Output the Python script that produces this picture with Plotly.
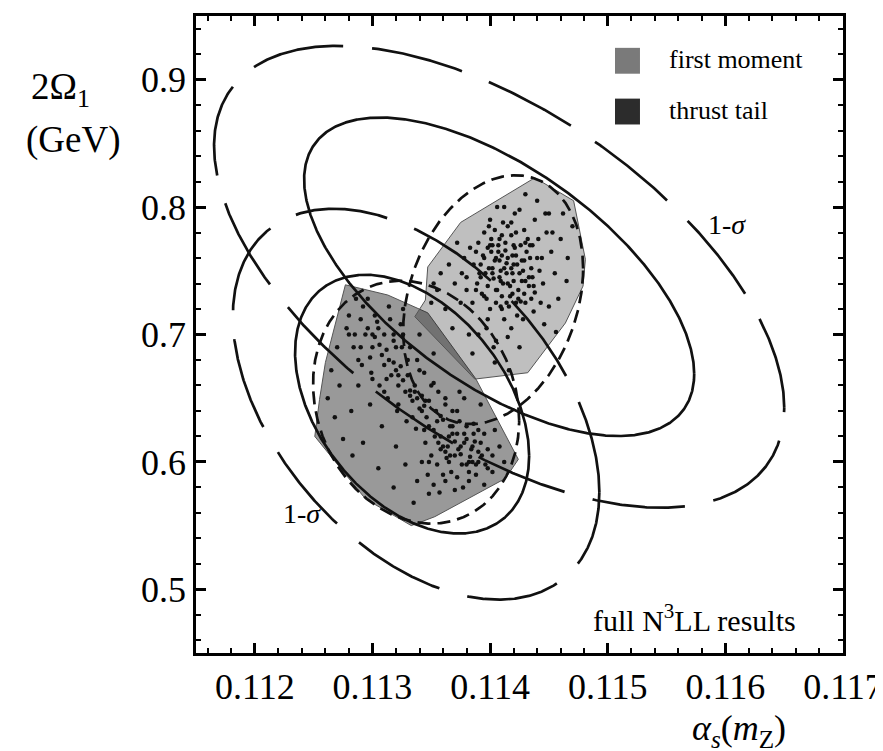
import numpy as np
import plotly.graph_objects as go

# ---------------- data ----------------
x_ticks = [0.112, 0.113, 0.114, 0.115, 0.116, 0.117]
y_ticks = [0.5, 0.6, 0.7, 0.8, 0.9]

# convex hulls of the best-fit points
moment_hull_x = [0.11438, 0.11471, 0.11481, 0.11479, 0.11464, 0.11432, 0.11387, 0.11336, 0.11345, 0.11347, 0.11375, 0.11438]
moment_hull_y = [0.823, 0.805, 0.759, 0.738, 0.709, 0.670, 0.665, 0.714, 0.727, 0.753, 0.788, 0.823]
thrust_hull_x = [0.11277, 0.11313, 0.11347, 0.11388, 0.11424, 0.11413, 0.11353, 0.11333, 0.11294, 0.11251, 0.11255, 0.11260, 0.11277]
thrust_hull_y = [0.739, 0.731, 0.717, 0.665, 0.602, 0.587, 0.557, 0.550, 0.571, 0.620, 0.649, 0.678, 0.739]

# best-fit points (read approximately)
thrust_pts_x = [0.11280, 0.11285, 0.11292, 0.11300, 0.11296, 0.11305, 0.11310, 0.11318, 0.11322, 0.11315,
                0.11330, 0.11336, 0.11340, 0.11345, 0.11352, 0.11358, 0.11362, 0.11368, 0.11372, 0.11380,
                0.11386, 0.11390, 0.11395, 0.11402, 0.11408, 0.11398, 0.11385, 0.11375, 0.11365, 0.11355,
                0.11342, 0.11332, 0.11325, 0.11312, 0.11302, 0.11290, 0.11278, 0.11270, 0.11265, 0.11262,
                0.11268, 0.11275, 0.11283, 0.11288, 0.11298, 0.11308, 0.11320, 0.11328, 0.11338, 0.11348,
                0.11360, 0.11370, 0.11382, 0.11392, 0.11404, 0.11412, 0.11395, 0.11378, 0.11362, 0.11348,
                0.11335, 0.11318, 0.11305, 0.11292, 0.11282, 0.11272, 0.11300, 0.11322, 0.11344, 0.11366,
                0.11388, 0.11356, 0.11334, 0.11310, 0.11288, 0.11340, 0.11352, 0.11326, 0.11314, 0.11374,
                0.11300, 0.11306, 0.11312, 0.11318, 0.11324, 0.11330, 0.11336, 0.11342, 0.11348, 0.11354,
                0.11360, 0.11366, 0.11372, 0.11378, 0.11384, 0.11390, 0.11396, 0.11402, 0.11346, 0.11352,
                0.11358, 0.11364, 0.11370, 0.11376, 0.11382, 0.11340, 0.11334, 0.11328, 0.11322, 0.11316,
                0.11310, 0.11304, 0.11298, 0.11294, 0.11320, 0.11326, 0.11332, 0.11338, 0.11344, 0.11350,
                0.11356, 0.11362, 0.11368, 0.11374, 0.11380, 0.11386, 0.11392, 0.11398, 0.11286, 0.11280,
                0.11345, 0.11350, 0.11355, 0.11360, 0.11365, 0.11370, 0.11375, 0.11380, 0.11385, 0.11390,
                0.11348, 0.11353, 0.11358, 0.11363, 0.11368, 0.11373, 0.11378, 0.11383, 0.11388, 0.11393,
                0.11342, 0.11347, 0.11352, 0.11357, 0.11362, 0.11367, 0.11372, 0.11377, 0.11382, 0.11387,
                0.11290, 0.11296, 0.11302, 0.11308, 0.11314, 0.11320, 0.11326, 0.11332, 0.11338, 0.11344,
                0.11284, 0.11291, 0.11299, 0.11306, 0.11313, 0.11321, 0.11329, 0.11337, 0.11318, 0.11324]
thrust_pts_y = [0.715, 0.700, 0.722, 0.690, 0.728, 0.705, 0.676, 0.695, 0.668, 0.712,
                0.680, 0.655, 0.672, 0.648, 0.662, 0.636, 0.650, 0.628, 0.640, 0.618,
                0.630, 0.608, 0.622, 0.605, 0.612, 0.595, 0.600, 0.612, 0.620, 0.632,
                0.640, 0.652, 0.690, 0.665, 0.715, 0.690, 0.705, 0.690, 0.672, 0.650,
                0.635, 0.618, 0.605, 0.660, 0.645, 0.628, 0.612, 0.598, 0.585, 0.600,
                0.590, 0.578, 0.585, 0.645, 0.625, 0.600, 0.582, 0.650, 0.608, 0.575,
                0.568, 0.580, 0.595, 0.615, 0.640, 0.660, 0.665, 0.645, 0.625, 0.605,
                0.598, 0.615, 0.635, 0.655, 0.680, 0.700, 0.685, 0.720, 0.722, 0.655,
                0.700, 0.692, 0.688, 0.678, 0.675, 0.668, 0.660, 0.652, 0.648, 0.640,
                0.633, 0.628, 0.622, 0.615, 0.610, 0.600, 0.598, 0.592, 0.635, 0.625,
                0.620, 0.612, 0.605, 0.598, 0.592, 0.642, 0.648, 0.655, 0.660, 0.668,
                0.700, 0.710, 0.682, 0.700, 0.690, 0.700, 0.690, 0.680, 0.670, 0.660,
                0.655, 0.645, 0.640, 0.632, 0.628, 0.622, 0.615, 0.610, 0.728, 0.700,
                0.615, 0.605, 0.598, 0.612, 0.600, 0.616, 0.606, 0.598, 0.612, 0.625,
                0.628, 0.620, 0.610, 0.603, 0.622, 0.610, 0.622, 0.604, 0.590, 0.605,
                0.600, 0.590, 0.582, 0.576, 0.585, 0.592, 0.588, 0.580, 0.600, 0.616,
                0.712, 0.705, 0.698, 0.684, 0.680, 0.672, 0.664, 0.656, 0.650, 0.644,
                0.690, 0.676, 0.670, 0.660, 0.650, 0.640, 0.632, 0.626, 0.700, 0.708]

moment_pts_x = [0.11440, 0.11430, 0.11420, 0.11412, 0.11405, 0.11398, 0.11392, 0.11385, 0.11378, 0.11370,
                0.11362, 0.11355, 0.11448, 0.11455, 0.11462, 0.11450, 0.11438, 0.11425, 0.11415, 0.11408,
                0.11400, 0.11410, 0.11418, 0.11428, 0.11435, 0.11445, 0.11452, 0.11460, 0.11466, 0.11440,
                0.11430, 0.11420, 0.11410, 0.11402, 0.11395, 0.11388, 0.11380, 0.11372, 0.11365, 0.11358,
                0.11350, 0.11352, 0.11390, 0.11398, 0.11405, 0.11415, 0.11422, 0.11432, 0.11442, 0.11450,
                0.11458, 0.11465, 0.11470, 0.11412, 0.11425, 0.11408, 0.11395, 0.11382, 0.11400, 0.11418,
                0.11436, 0.11427, 0.11392, 0.11375, 0.11446, 0.11456, 0.11404, 0.11416, 0.11385, 0.11368,
                0.11395, 0.11402, 0.11408, 0.11413, 0.11419, 0.11424, 0.11405, 0.11398, 0.11410, 0.11416,
                0.11422, 0.11428, 0.11433, 0.11430, 0.11418, 0.11404, 0.11390, 0.11386, 0.11393, 0.11400,
                0.11412, 0.11423, 0.11436, 0.11438, 0.11444, 0.11409, 0.11414, 0.11420, 0.11426, 0.11401,
                0.11396, 0.11407, 0.11417, 0.11429, 0.11434, 0.11389, 0.11383, 0.11411, 0.11421, 0.11397,
                0.11380, 0.11376, 0.11406, 0.11441, 0.11447, 0.11453, 0.11437, 0.11443, 0.11415, 0.11403,
                0.11399, 0.11403, 0.11407, 0.11411, 0.11415, 0.11419, 0.11423, 0.11427, 0.11431, 0.11435,
                0.11401, 0.11405, 0.11409, 0.11413, 0.11417, 0.11421, 0.11425, 0.11429, 0.11433, 0.11437,
                0.11397, 0.11402, 0.11406, 0.11410, 0.11414, 0.11418, 0.11422, 0.11426, 0.11430, 0.11434,
                0.11394, 0.11399, 0.11404, 0.11409, 0.11414, 0.11419, 0.11424, 0.11429, 0.11391, 0.11388]
moment_pts_y = [0.760, 0.742, 0.770, 0.752, 0.735, 0.768, 0.745, 0.725, 0.760, 0.740,
                0.720, 0.735, 0.780, 0.748, 0.795, 0.722, 0.790, 0.798, 0.785, 0.775,
                0.790, 0.720, 0.705, 0.712, 0.728, 0.740, 0.765, 0.775, 0.760, 0.805,
                0.810, 0.755, 0.762, 0.752, 0.780, 0.765, 0.745, 0.772, 0.755, 0.748,
                0.725, 0.740, 0.700, 0.712, 0.695, 0.740, 0.725, 0.775, 0.750, 0.795,
                0.728, 0.742, 0.785, 0.800, 0.690, 0.745, 0.730, 0.700, 0.770, 0.788,
                0.770, 0.758, 0.755, 0.725, 0.708, 0.702, 0.678, 0.672, 0.685, 0.705,
                0.760, 0.748, 0.758, 0.766, 0.748, 0.735, 0.725, 0.738, 0.730, 0.722,
                0.762, 0.750, 0.738, 0.725, 0.778, 0.782, 0.772, 0.755, 0.732, 0.720,
                0.712, 0.715, 0.745, 0.733, 0.760, 0.742, 0.756, 0.742, 0.770, 0.765,
                0.748, 0.770, 0.730, 0.782, 0.760, 0.740, 0.768, 0.788, 0.795, 0.705,
                0.735, 0.748, 0.800, 0.775, 0.795, 0.780, 0.718, 0.725, 0.698, 0.690,
                0.752, 0.744, 0.765, 0.740, 0.760, 0.732, 0.755, 0.742, 0.765, 0.752,
                0.775, 0.760, 0.750, 0.772, 0.738, 0.768, 0.748, 0.732, 0.745, 0.738,
                0.728, 0.770, 0.735, 0.778, 0.725, 0.752, 0.780, 0.726, 0.772, 0.770,
                0.762, 0.785, 0.758, 0.722, 0.748, 0.762, 0.728, 0.758, 0.748, 0.735]

# error ellipses: centre, half-extent in x and in y, correlation, line style
#   0 tail exp. (solid), 1 tail theory (dashed), 2 moment theory (dashed),
#   3 moment exp. (solid), 4 moment total (long dash), 5 tail total (long dash)
ell_cx   = [0.113337, 0.113371, 0.114026, 0.114077, 0.114077, 0.113371]
ell_cy   = [0.64531, 0.64688, 0.72734, 0.74531, 0.74531, 0.64531]
ell_sx   = [0.000995, 0.000876, 0.000765, 0.001658, 0.0024235, 0.0015578]
ell_sy   = [0.10156, 0.09531, 0.09766, 0.12500, 0.18125, 0.15344]
ell_rho  = [-0.40, -0.15, 0.25, -0.61, -0.567, -0.45]
ell_dash = ["solid", "13px,7px", "13px,7px", "solid", "93px,29px", "93px,29px"]

legend_labels = ["first moment", "thrust tail"]
legend_colors = ["#7a7a7a", "#2c2c2c"]

# ---------------- figure ----------------
SERIF = "Liberation Serif, Times New Roman, serif"
fig = go.Figure()

fig.add_trace(go.Scatter(x=thrust_hull_x, y=thrust_hull_y, mode="lines", fill="toself",
                         fillcolor="rgba(0,0,0,0.40)", line=dict(color="#555", width=1),
                         hoverinfo="skip", showlegend=False))
fig.add_trace(go.Scatter(x=moment_hull_x, y=moment_hull_y, mode="lines", fill="toself",
                         fillcolor="rgba(0,0,0,0.25)", line=dict(color="#555", width=1),
                         hoverinfo="skip", showlegend=False))
fig.add_trace(go.Scatter(x=thrust_pts_x, y=thrust_pts_y, mode="markers",
                         marker=dict(color="#111", size=4.5), showlegend=False))
fig.add_trace(go.Scatter(x=moment_pts_x, y=moment_pts_y, mode="markers",
                         marker=dict(color="#111", size=4.5), showlegend=False))

t = np.linspace(0, 2 * np.pi, 900)
for cx, cy, sx, sy, rho, dash in zip(ell_cx, ell_cy, ell_sx, ell_sy, ell_rho, ell_dash):
    d = np.arccos(rho)
    fig.add_trace(go.Scatter(x=cx + sx * np.cos(t), y=cy + sy * np.cos(t - d), mode="lines",
                             line=dict(color="#111", width=2.7, dash=dash),
                             hoverinfo="skip", showlegend=False))

axis_common = dict(showline=True, linewidth=2.6, linecolor="black", mirror="allticks",
                   ticks="inside", ticklen=10, tickwidth=2.5, tickcolor="black",
                   showgrid=False, zeroline=False,
                   tickfont=dict(family=SERIF, size=36, color="black"))
fig.update_xaxes(range=[0.1115, 0.117], tickvals=x_ticks, tickformat=".3f",
                 minor=dict(ticks="inside", ticklen=5, tickwidth=2, dtick=0.0002, tick0=0.112,
                            tickcolor="black", showgrid=False),
                 **axis_common)
fig.update_yaxes(range=[0.45, 0.95], tickvals=y_ticks, tickformat=".1f",
                 minor=dict(ticks="inside", ticklen=5, tickwidth=2, dtick=0.02, tick0=0.5,
                            tickcolor="black", showgrid=False),
                 **axis_common)

# legend drawn as squares + text
for i, (lab, col) in enumerate(zip(legend_labels, legend_colors)):
    y0 = 0.9094 - i * 0.0797
    fig.add_shape(type="rect", xref="paper", yref="paper", x0=0.6476, x1=0.6862,
                  y0=y0, y1=y0 + 0.0406, fillcolor=col, line=dict(width=0))
    fig.add_annotation(xref="paper", yref="paper", x=0.728, y=y0 + 0.022, text=lab,
                       showarrow=False, xanchor="left", yanchor="middle",
                       font=dict(family=SERIF, size=26, color="black"))

fig.add_annotation(xref="paper", yref="paper", x=0.930, y=0.055, text="full N<sup>3</sup>LL results",
                   showarrow=False, xanchor="right", yanchor="middle",
                   font=dict(family=SERIF, size=30, color="black"))
fig.add_annotation(xref="paper", yref="paper", x=0.853, y=0.70, text="1-<i>σ</i>",
                   showarrow=False, font=dict(family=SERIF, size=28, color="black"))
fig.add_annotation(xref="paper", yref="paper", x=0.131, y=0.192, text="1-<i>σ</i>",
                   showarrow=False, font=dict(family=SERIF, size=28, color="black"))

# axis titles
fig.add_annotation(xref="paper", yref="paper", x=-0.21, y=0.884, text="2Ω<sub>1</sub>",
                   showarrow=False, xanchor="center", yanchor="middle",
                   font=dict(family=SERIF, size=37, color="black"))
fig.add_annotation(xref="paper", yref="paper", x=-0.19, y=0.805, text="(GeV)",
                   showarrow=False, xanchor="center", yanchor="middle",
                   font=dict(family=SERIF, size=37, color="black"))
fig.add_annotation(xref="paper", yref="paper", x=0.84, y=-0.122, text="<i>α</i><sub><i>s</i></sub>(<i>m</i><sub>Z</sub>)",
                   showarrow=False, xanchor="center", yanchor="middle",
                   font=dict(family=SERIF, size=36, color="black"))

fig.update_layout(width=883, height=751, margin=dict(l=188, r=48, t=5, b=106),
                  plot_bgcolor="white", paper_bgcolor="white", showlegend=False)

fig.write_html("out.html")
